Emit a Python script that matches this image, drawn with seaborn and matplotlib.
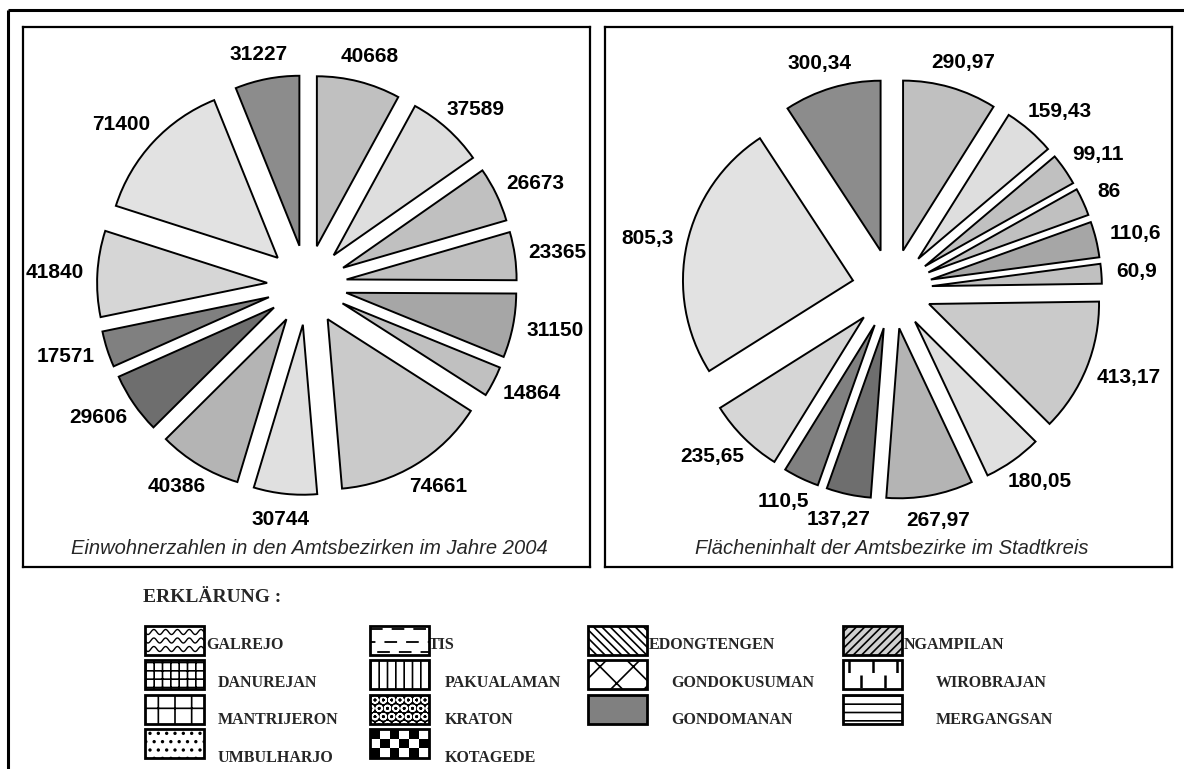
import numpy as np
import matplotlib
matplotlib.use("Agg")
import matplotlib.pyplot as plt
from matplotlib.patches import Rectangle
import seaborn as sns

sns.set_theme(style="white")
plt.rcParams["font.family"] = ["Liberation Sans", "DejaVu Sans"]
plt.rcParams["hatch.linewidth"] = 1.2

# Einwohner je Amtsbezirk (im Uhrzeigersinn ab 12 Uhr)
einwohner = [40668, 37589, 26673, 23365, 31150, 14864, 74661,
             30744, 40386, 29606, 17571, 41840, 71400, 31227]
# Flaeche je Amtsbezirk (gleiche Reihenfolge)
flaeche = [290.97, 159.43, 99.11, 86, 110.6, 60.9, 413.17,
           180.05, 267.97, 137.27, 110.5, 235.65, 805.3, 300.34]

slice_colors = ["#c0c0c0", "#dedede", "#c0c0c0", "#c0c0c0", "#a6a6a6",
                "#c0c0c0", "#cacaca", "#e0e0e0", "#b4b4b4", "#6e6e6e",
                "#808080", "#d6d6d6", "#e2e2e2", "#8c8c8c"]

title_left = "Einwohnerzahlen in den Amtsbezirken im Jahre 2004"
title_right = "Flächeninhalt der Amtsbezirke im Stadtkreis"

legend_title = "ERKLÄRUNG :"
legend_names = [
    ["GALREJO", "TIS", "EDONGTENGEN", "NGAMPILAN"],
    ["DANUREJAN", "PAKUALAMAN", "GONDOKUSUMAN", "WIROBRAJAN"],
    ["MANTRIJERON", "KRATON", "GONDOMANAN", "MERGANGSAN"],
    ["UMBULHARJO", "KOTAGEDE"],
]

W_PX, H_PX = 1184, 769
R = 170          # pie radius in pixels
EXPLODE = 0.235
LABEL_DIST = 1.11


def fmt_de(v):
    return f"{v:g}".replace(".", ",")


def draw_pie(fig, box, center, values, title, title_x):
    x0, y0, w, h = box
    ax = fig.add_axes([x0 / W_PX, 1 - (y0 + h) / H_PX, w / W_PX, h / H_PX])
    labels = [fmt_de(v) for v in values]
    wedges, texts = ax.pie(
        values, labels=labels, colors=slice_colors, startangle=90,
        counterclock=False, explode=[EXPLODE] * len(values),
        labeldistance=LABEL_DIST, frame=True,
        wedgeprops=dict(edgecolor="black", linewidth=1.4),
        textprops=dict(fontsize=15, fontweight="bold", color="black"),
    )
    cx, cy = center[0] - x0, center[1] - y0
    ax.set_aspect("auto")
    ax.set_xlim(-cx / R, (w - cx) / R)
    ax.set_ylim(-(h - cy) / R, cy / R)
    ax.set_xticks([])
    ax.set_yticks([])
    ax.set_facecolor("white")
    for s in ax.spines.values():
        s.set_visible(True)
        s.set_color("black")
        s.set_linewidth(1.6)

    # push each label out so that its box edge sits near the anchor point
    renderer = fig.canvas.get_renderer()
    for wd, t in zip(wedges, texts):
        t.set_ha("center")
        t.set_va("center")
        phi = np.deg2rad((wd.theta1 + wd.theta2) / 2)
        bb = t.get_window_extent(renderer)
        tx, ty = t.get_position()
        t.set_position((tx + 0.42 * bb.width * np.cos(phi) / R,
                        ty + 0.35 * bb.height * np.sin(phi) / R))

    ax.text(title_x, 0.035, title, transform=ax.transAxes, ha="center",
            va="center", fontsize=14.5, style="italic")
    return ax


fig = plt.figure(figsize=(W_PX / 100, H_PX / 100), dpi=100)
fig.patch.set_facecolor("white")

# background axes in pixel coordinates: outer frame and legend
bg = fig.add_axes([0, 0, 1, 1])
bg.set_axis_off()
bg.plot([8, W_PX + 5], [10, 10], color="black", lw=2.2, solid_capstyle="butt")
bg.plot([8, 8], [10, H_PX + 5], color="black", lw=2.2, solid_capstyle="butt")

draw_pie(fig, (23, 27, 567, 540), (307, 285), einwohner, title_left, 0.505)
draw_pie(fig, (605, 27, 567, 540), (892, 289), flaeche, title_right, 0.505)

# legend
bg.text(143, 598, legend_title, ha="left", va="center", fontsize=14,
        fontweight="bold", family=["Liberation Serif", "DejaVu Serif"])

col_box_x = [145, 370, 588, 843]
row_box_y = [626, 660, 695, 729]
row_text_y = [645, 683, 720, 758]
text_x_first = [206, 429, 649, 904]
text_x_other = [218, 445, 671, 936]
BW, BH = 59, 29

hatches = [
    [None, None, "\\\\\\\\", "////"],
    ["++", "||", "x", None],
    ["+", "OO", None, "--"],
    ["..", None],
]
faces = [
    ["white", "white", "white", "#d0d0d0"],
    ["white", "white", "white", "white"],
    ["white", "black", "#808080", "white"],
    ["white", "white"],
]

for r, row in enumerate(legend_names):
    for c, name in enumerate(row):
        bx, by = col_box_x[c], row_box_y[r]
        hatch = hatches[r][c]
        face = faces[r][c]
        ec = "white" if face == "black" else "black"
        bg.add_patch(Rectangle((bx, by), BW, BH, facecolor=face, hatch=hatch,
                               edgecolor=ec, lw=0, zorder=2))
        clip = Rectangle((bx, by), BW, BH, transform=bg.transData)
        if name == "GALREJO":
            xs = np.linspace(bx, bx + BW, 120)
            for k in range(3):
                yc = by + 6 + k * 8.5
                line, = bg.plot(xs, yc + 2.5 * np.sin((xs - bx) / BW * 2 * np.pi * 5),
                                color="black", lw=1.0, zorder=3)
                line.set_clip_path(clip)
        elif name == "TIS":
            for k, yy in enumerate([by + 3, by + BH / 2 + 1, by + BH - 3]):
                line, = bg.plot([bx, bx + BW], [yy, yy], color="black", lw=1.3,
                                ls=(k * 4, (7, 5)), zorder=3)
                line.set_clip_path(clip)
        elif name == "WIROBRAJAN":
            for k in range(5):
                xx = bx + 6 + k * 12
                line, = bg.plot([xx, xx], [by, by + BH], color="black", lw=1.8,
                                ls=((k % 2) * 6, (5, 7)), zorder=3)
                line.set_clip_path(clip)
        elif name == "KOTAGEDE":
            board = np.indices((3, 6)).sum(axis=0) % 2
            bg.imshow(board, cmap="gray", extent=(bx, bx + BW, by + BH, by),
                      interpolation="nearest", aspect="auto", zorder=3)
        bg.add_patch(Rectangle((bx, by), BW, BH, fill=False, edgecolor="black",
                               lw=2, zorder=4))
        tx = text_x_first[c] if r == 0 else text_x_other[c]
        bg.text(tx, row_text_y[r], name, ha="left", va="center", fontsize=11.5,
                fontweight="bold", family=["Liberation Serif", "DejaVu Serif"],
                zorder=1)

bg.set_xlim(0, W_PX)
bg.set_ylim(H_PX, 0)

fig.savefig("out.png", dpi=100, facecolor="white")
